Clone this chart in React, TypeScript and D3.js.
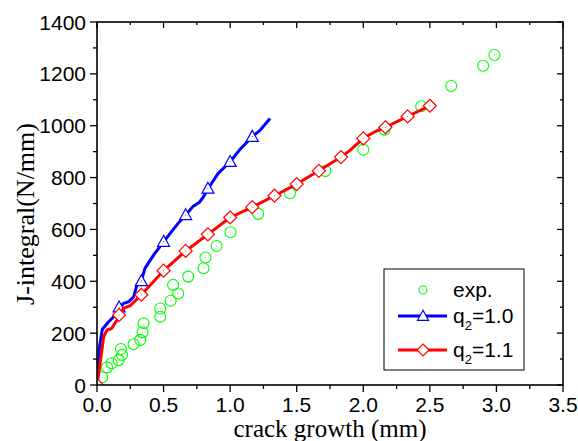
import React from "react";
import * as d3 from "d3";

// ---- data ----
const expX = [0.04, 0.075, 0.11, 0.163, 0.188, 0.18, 0.275, 0.325, 0.342, 0.35, 0.475, 0.475, 0.553, 0.61, 0.572, 0.685, 0.8, 0.815, 0.898, 1.003, 1.21, 1.45, 1.715, 2.0, 2.16, 2.435, 2.66, 2.9, 2.985];
const expY = [30, 68, 84, 96, 116, 139, 157, 174, 203, 238, 263, 295, 325, 353, 386, 418, 450, 492, 536, 589, 660, 740, 825, 907, 985, 1075, 1153, 1231, 1273];

const q10X = [0, 0.02, 0.04, 0.088, 0.125, 0.166, 0.2, 0.238, 0.275, 0.3, 0.333, 0.36, 0.43, 0.5, 0.57, 0.62, 0.666, 0.72, 0.77, 0.8, 0.835, 0.91, 1.0, 1.07, 1.166, 1.22, 1.3];
const q10Y = [20, 150, 215, 244, 263, 295, 315, 321, 340, 386, 402, 450, 505, 552, 598, 630, 656, 688, 705, 726, 758, 816, 861, 906, 958, 980, 1028];
const q10MarkX = [0.166, 0.333, 0.5, 0.666, 0.833, 1.0, 1.166];
const q10MarkY = [300, 401, 553, 656, 758, 861, 958];

const q11X = [0, 0.012, 0.025, 0.05, 0.075, 0.11, 0.15, 0.166, 0.2, 0.25, 0.333, 0.5, 0.666, 0.833, 1.0, 1.166, 1.333, 1.5, 1.666, 1.833, 1.9, 2.0, 2.08, 2.166, 2.333, 2.5];
const q11Y = [0, 40, 90, 186, 212, 218, 250, 270, 296, 306, 348, 441, 517, 581, 646, 686, 730, 775, 826, 879, 905, 951, 975, 994, 1036, 1077];
const q11MarkX = [0, 0.166, 0.333, 0.5, 0.666, 0.833, 1.0, 1.166, 1.333, 1.5, 1.666, 1.833, 2.0, 2.166, 2.333, 2.5];
const q11MarkY = [0, 270, 348, 441, 517, 581, 646, 686, 730, 775, 826, 879, 951, 994, 1036, 1077];

const xMajor = [0, 0.5, 1.0, 1.5, 2.0, 2.5, 3.0, 3.5];
const xMinor = [0.25, 0.75, 1.25, 1.75, 2.25, 2.75, 3.25];
const yMajor = [0, 200, 400, 600, 800, 1000, 1200, 1400];
const yMinor = [100, 300, 500, 700, 900, 1100, 1300];

const BLUE = "#0000ff";
const RED = "#ff0000";
const GREEN = "#00ff00";
const SANS = "'Liberation Sans', Arial, sans-serif";
const SERIF = "'Liberation Serif', 'Times New Roman', serif";

const L = 97, R = 563, T = 22, B = 385;

function tri(cx: number, cy: number, s: number) {
  const h = s * 0.866;
  return `M${cx},${cy - h * 0.6}L${cx + s / 2},${cy + h * 0.45}L${cx - s / 2},${cy + h * 0.45}Z`;
}
function dia(cx: number, cy: number, r: number) {
  return `M${cx},${cy - r}L${cx + r},${cy}L${cx},${cy + r}L${cx - r},${cy}Z`;
}

export default function App() {
  const x = d3.scaleLinear().domain([0, 3.5]).range([L, R]);
  const y = d3.scaleLinear().domain([0, 1400]).range([B, T]);
  const line = d3.line<[number, number]>().x(d => x(d[0])).y(d => y(d[1]));
  const blue = q10X.map((v, i) => [v, q10Y[i]] as [number, number]);
  const red = q11X.map((v, i) => [v, q11Y[i]] as [number, number]);

  return (
    <svg width={578} height={441} style={{ position: "absolute", left: 0, top: 0, background: "#fff" }}>
      <defs>
        <clipPath id="plot">
          <rect x={L} y={T} width={R - L} height={B - T} />
        </clipPath>
      </defs>
      <rect x={0} y={0} width={578} height={441} fill="#fff" />

      <g clipPath="url(#plot)">
        {expX.map((v, i) => (
          <g key={"e" + i}>
            <circle cx={x(v)} cy={y(expY[i])} r={5.5} fill="none" stroke={GREEN} strokeWidth={1.1} />
            <circle cx={x(v)} cy={y(expY[i])} r={0.5} fill={GREEN} />
          </g>
        ))}
        <path d={line(blue) || ""} fill="none" stroke={BLUE} strokeWidth={3} strokeLinejoin="round" />
        {q10MarkX.map((v, i) => (
          <g key={"b" + i}>
            <path d={tri(x(v), y(q10MarkY[i]), 12)} fill="#fff" stroke={BLUE} strokeWidth={1.2} />
            <circle cx={x(v)} cy={y(q10MarkY[i])} r={0.5} fill={BLUE} />
          </g>
        ))}
        <path d={line(red) || ""} fill="none" stroke={RED} strokeWidth={3} strokeLinejoin="round" />
        {q11MarkX.map((v, i) => (
          <g key={"r" + i}>
            <path d={dia(x(v), y(q11MarkY[i]), 6.5)} fill="#fff" stroke={RED} strokeWidth={1.2} />
            <circle cx={x(v)} cy={y(q11MarkY[i])} r={0.5} fill={RED} />
          </g>
        ))}
      </g>

      {/* frame */}
      <rect x={L} y={T} width={R - L} height={B - T} fill="none" stroke="#000" strokeWidth={1.6} />

      {/* x ticks */}
      {xMajor.map(v => (
        <g key={"xm" + v}>
          <line x1={x(v)} x2={x(v)} y1={B} y2={B + 7} stroke="#000" strokeWidth={1.3} />
          <line x1={x(v)} x2={x(v)} y1={T} y2={T + 6} stroke="#000" strokeWidth={1.3} />
          <text x={x(v)} y={412} textAnchor="middle" fontFamily={SANS} fontSize={21} fill="#000">{v.toFixed(1)}</text>
        </g>
      ))}
      {xMinor.map(v => (
        <g key={"xn" + v}>
          <line x1={x(v)} x2={x(v)} y1={B} y2={B + 4} stroke="#000" strokeWidth={1.3} />
          <line x1={x(v)} x2={x(v)} y1={T} y2={T + 3} stroke="#000" strokeWidth={1.3} />
        </g>
      ))}
      {/* y ticks */}
      {yMajor.map(v => (
        <g key={"ym" + v}>
          <line x1={L - 7} x2={L} y1={y(v)} y2={y(v)} stroke="#000" strokeWidth={1.3} />
          <line x1={R - 6} x2={R} y1={y(v)} y2={y(v)} stroke="#000" strokeWidth={1.3} />
          <text x={86} y={y(v) + 7.5} textAnchor="end" fontFamily={SANS} fontSize={21} fill="#000">{v}</text>
        </g>
      ))}
      {yMinor.map(v => (
        <g key={"yn" + v}>
          <line x1={L - 4} x2={L} y1={y(v)} y2={y(v)} stroke="#000" strokeWidth={1.3} />
          <line x1={R - 3} x2={R} y1={y(v)} y2={y(v)} stroke="#000" strokeWidth={1.3} />
        </g>
      ))}

      {/* axis titles */}
      <text x={330} y={437} textAnchor="middle" fontFamily={SERIF} fontSize={25} fill="#000">crack growth (mm)</text>
      <text transform="translate(34,214) rotate(-90)" textAnchor="middle" fontFamily={SERIF} fontSize={26} fill="#000">J-integral(N/mm)</text>

      {/* legend */}
      <rect x={384} y={269} width={140} height={101} fill="#fff" stroke="#000" strokeWidth={1} />
      <circle cx={423} cy={290} r={4} fill="none" stroke={GREEN} strokeWidth={1.1} />
      <circle cx={423} cy={290} r={0.5} fill={GREEN} />
      <text x={453} y={297} fontFamily={SANS} fontSize={21} fill="#000">exp.</text>

      <line x1={398} x2={447} y1={316} y2={316} stroke={BLUE} strokeWidth={3} />
      <path d={tri(423, 316, 11)} fill="#fff" stroke={BLUE} strokeWidth={1.2} />
      <text x={453} y={323} fontFamily={SANS} fontSize={21} fill="#000">q<tspan fontSize={13} dy={7}>2</tspan><tspan dy={-7}>=1.0</tspan></text>

      <line x1={398} x2={447} y1={350} y2={350} stroke={RED} strokeWidth={3} />
      <path d={dia(423, 350, 6)} fill="#fff" stroke={RED} strokeWidth={1.2} />
      <text x={453} y={357} fontFamily={SANS} fontSize={21} fill="#000">q<tspan fontSize={13} dy={7}>2</tspan><tspan dy={-7}>=1.1</tspan></text>
    </svg>
  );
}
